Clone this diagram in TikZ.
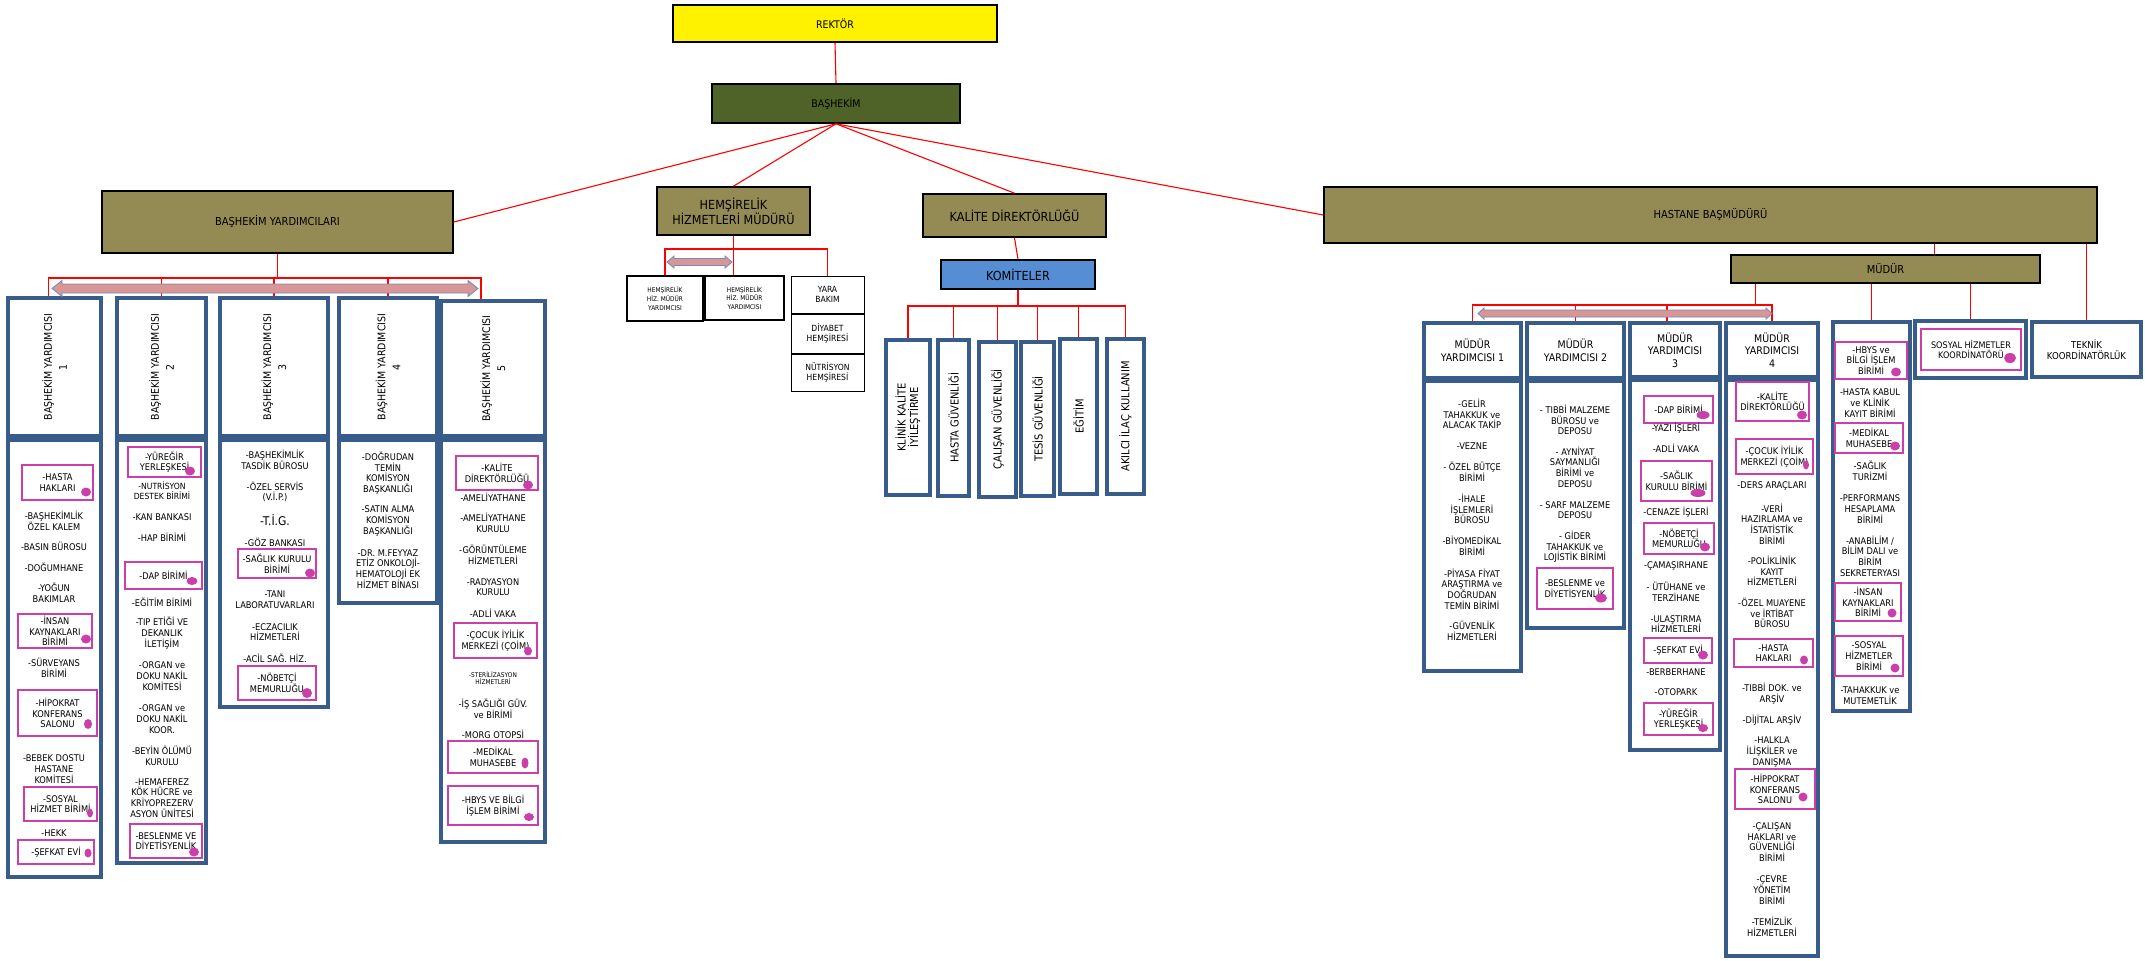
\documentclass[tikz,border=0pt]{standalone}
\usepackage{fontspec}
\setmainfont{DejaVu Sans Condensed}

\definecolor{olivec}{HTML}{948A54}
\definecolor{greenc}{HTML}{4F6228}
\definecolor{framec}{HTML}{385D8A}
\definecolor{pinkc}{HTML}{CC3FA8}
\definecolor{dotc}{HTML}{CC3FAA}
\definecolor{komc}{HTML}{558ED5}
\definecolor{arrfill}{HTML}{DA9694}
\definecolor{arrline}{HTML}{6C8EBF}

\newcommand{\itmfont}{\fontsize{9.2}{10.7}\selectfont}
% box from its two corners (pixel coordinates)
\newcommand{\orgcell}[7]{\node[#2, minimum width={#5-#3}, minimum height={#6-#4}] (#1) at ({(#3+#5)/2},{(#4+#6)/2}) {#7};}
% magenta dot of a box
\newcommand{\pdot}[4]{\fill[dotc] (#1,#2) ellipse ({#3} and {#4});}
% double arrow: x1, x2, y, head length, half head, half shaft
\newcommand{\dblarrow}[6]{\draw[arrline, fill=arrfill, line width=0.8pt] (#1,#3) -- ({#1+#4},{#3-#5}) -- ({#1+#4},{#3-#6}) -- ({#2-#4},{#3-#6}) -- ({#2-#4},{#3-#5}) -- (#2,#3) -- ({#2-#4},{#3+#5}) -- ({#2-#4},{#3+#6}) -- ({#1+#4},{#3+#6}) -- ({#1+#4},{#3+#5}) -- cycle;}

\tikzset{
  redline/.style={draw=red, line width=1.1pt},
  olivebox/.style={draw=black, line width=1.6pt, fill=olivec, align=center, inner sep=0pt, font=\fontsize{11}{13}\selectfont},
  colframe/.style={draw=framec, line width=3.5pt, fill=white, inner sep=0pt, align=center},
  pinkbox/.style={draw=pinkc, line width=1.3pt, fill=white, align=center, inner sep=0pt, font=\itmfont},
  itm/.style={align=center, inner sep=0pt, font=\itmfont},
  hdtxt/.style={align=center, inner sep=0pt, font=\fontsize{10.5}{15}\selectfont},
  myhd/.style={colframe, font=\fontsize{10.5}{13}\selectfont},
  blackbox/.style={draw=black, line width=1.8pt, fill=white, align=center, inner sep=0pt, font=\fontsize{6.5}{8.6}\selectfont},
  thinbox/.style={draw=black, line width=0.8pt, fill=white, align=center, inner sep=0pt, font=\fontsize{8.5}{10}\selectfont},
  komtxt/.style={rotate=90, align=center, inner sep=0pt, font=\fontsize{11}{12.5}\selectfont}
}

\begin{document}
\begin{tikzpicture}[x=1pt, y=-1pt]
\useasboundingbox (0,0) rectangle (2145,961);

% top
\orgcell{rektor}{olivebox, fill=yellow, font=\fontsize{10.5}{12}\selectfont}{673}{5}{997}{42}{REKTÖR}
\orgcell{bas}{olivebox, fill=greenc, font=\fontsize{10.5}{12}\selectfont}{712}{84}{960}{123}{BAŞHEKİM}
\orgcell{bhy}{olivebox}{102}{191}{453}{253}{BAŞHEKİM YARDIMCILARI}
\orgcell{hhm}{olivebox, font=\fontsize{12.5}{15}\selectfont}{657}{187}{810}{235}{HEMŞİRELİK\\HİZMETLERİ MÜDÜRÜ}
\orgcell{kalite}{olivebox, font=\fontsize{12.5}{15}\selectfont}{923}{194}{1106}{237}{KALİTE DİREKTÖRLÜĞÜ}
\orgcell{hb}{olivebox}{1324}{187}{2097}{243}{HASTANE BAŞMÜDÜRÜ}
\orgcell{mudur}{olivebox}{1731}{255}{2040}{283}{MÜDÜR}

% basekim yardimcilari
\orgcell{by1hd}{colframe}{8}{298}{101}{436}{}
\orgcell{by2hd}{colframe}{117}{298}{206}{436}{}
\orgcell{by3hd}{colframe}{220}{298}{328}{436}{}
\orgcell{by4hd}{colframe}{339}{298}{437}{436}{}
\orgcell{by5hd}{colframe}{441}{301}{545}{436}{}
\foreach \n in {1,...,5}
  \node[hdtxt, rotate=90] (by\n t) at (by\n hd) {BAŞHEKİM YARDIMCISI\\\n};
\orgcell{by1ls}{colframe}{8}{440}{101}{877}{}
\orgcell{by2ls}{colframe}{117}{440}{206}{863}{}
\orgcell{by3ls}{colframe}{220}{440}{328}{707}{}
\orgcell{by4ls}{colframe}{339}{440}{437}{603}{}
\orgcell{by5ls}{colframe}{441}{440}{545}{842}{}

% column 1
\orgcell{by1p1}{pinkbox}{22}{465}{93}{500}{-HASTA\\HAKLARI}
\pdot{86}{492}{5}{4.5}
\node[itm] (by1a) at (54,521) {-BAŞHEKİMLİK\\ÖZEL KALEM};
\node[itm] (by1b) at (54,546) {-BASIN BÜROSU};
\node[itm] (by1c) at (54,567) {-DOĞUMHANE};
\node[itm] (by1d) at (54,593) {-YOĞUN\\BAKIMLAR};
\orgcell{by1p2}{pinkbox}{18}{614}{92}{648}{-İNSAN\\KAYNAKLARI\\BİRİMİ}
\pdot{86}{639}{5}{4.5}
\node[itm] (by1e) at (54,668) {-SÜRVEYANS\\BİRİMİ};
\orgcell{by1p3}{pinkbox}{18}{690}{97}{736}{-HİPOKRAT\\KONFERANS\\SALONU}
\pdot{88}{724}{4}{5}
\node[itm] (by1f) at (54,769) {-BEBEK DOSTU\\HASTANE\\KOMİTESİ};
\orgcell{by1p4}{pinkbox}{24}{787}{97}{821}{-SOSYAL\\HİZMET BİRİMİ}
\pdot{90}{813}{3}{4.5}
\node[itm] (by1g) at (54,833) {-HEKK};
\orgcell{by1p5}{pinkbox}{18}{840}{94}{864}{-ŞEFKAT EVİ}
\pdot{88}{853}{3.5}{4.5}

% column 2
\orgcell{by2p1}{pinkbox}{128}{447}{201}{477}{-YÜREĞİR\\YERLEŞKESİ}
\pdot{190}{471}{5}{4.5}
\node[itm, font=\fontsize{8.5}{10}\selectfont] (by2a) at (162,491) {-NUTRİSYON\\DESTEK BİRİMİ};
\node[itm] (by2b) at (162,517) {-KAN BANKASI};
\node[itm] (by2c) at (162,537) {-HAP BİRİMİ};
\orgcell{by2p2}{pinkbox}{125}{562}{202}{589}{-DAP BİRİMİ}
\pdot{192}{581}{5.5}{4}
\node[itm] (by2d) at (162,602) {-EĞİTİM BİRİMİ};
\node[itm] (by2e) at (162,633) {-TIP ETİĞİ VE\\DEKANLIK\\İLETİŞİM};
\node[itm] (by2f) at (162,676) {-ORGAN ve\\DOKU NAKİL\\KOMİTESİ};
\node[itm] (by2g) at (162,719) {-ORGAN ve\\DOKU NAKİL\\KOOR.};
\node[itm] (by2h) at (162,756) {-BEYİN ÖLÜMÜ\\KURULU};
\node[itm] (by2i) at (162,798) {-HEMAFEREZ\\KÖK HÜCRE ve\\KRİYOPREZERV\\ASYON ÜNİTESİ};
\orgcell{by2p3}{pinkbox}{130}{824}{202}{858}{-BESLENME VE\\DİYETİSYENLİK}
\pdot{194}{852}{5}{4.5}

% column 3
\node[itm] (by3a) at (275,460) {-BAŞHEKİMLİK\\TASDİK BÜROSU};
\node[itm] (by3b) at (275,492) {-ÖZEL SERVİS\\(V.İ.P.)};
\node[itm, font=\fontsize{12}{14}\selectfont] (by3c) at (275,520) {-T.İ.G.};
\node[itm] (by3d) at (275,542) {-GÖZ BANKASI};
\orgcell{by3p1}{pinkbox}{238}{549}{316}{578}{-SAĞLIK KURULU\\BİRİMİ}
\pdot{310}{573}{5}{4.5}
\node[itm] (by3e) at (275,600) {-TANI\\LABORATUVARLARI};
\node[itm] (by3f) at (275,632) {-ECZACILIK\\HİZMETLERİ};
\node[itm] (by3g) at (275,658) {-ACİL SAĞ. HİZ.};
\orgcell{by3p2}{pinkbox}{238}{666}{316}{700}{-NÖBETÇİ\\MEMURLUĞU}
\pdot{307}{693}{5}{5}

% column 4
\node[itm] (by4a) at (388,473) {-DOĞRUDAN\\TEMİN\\KOMİSYON\\BAŞKANLIĞI};
\node[itm] (by4b) at (388,521) {-SATIN ALMA\\KOMİSYON\\BAŞKANLIĞI};
\node[itm] (by4c) at (388,569) {-DR. M.FEYYAZ\\ETİZ ONKOLOJİ-\\HEMATOLOJİ EK\\HİZMET BİNASI};

% column 5
\orgcell{by5p1}{pinkbox}{456}{456}{538}{490}{-KALİTE\\DİREKTÖRLÜĞÜ}
\pdot{528}{485}{5}{4.5}
\node[itm] (by5a) at (493,497) {-AMELİYATHANE};
\node[itm] (by5b) at (493,523) {-AMELİYATHANE\\KURULU};
\node[itm] (by5c) at (493,555) {-GÖRÜNTÜLEME\\HİZMETLERİ};
\node[itm] (by5d) at (493,587) {-RADYASYON\\KURULU};
\node[itm] (by5e) at (493,613) {-ADLİ VAKA};
\orgcell{by5p2}{pinkbox}{454}{623}{537}{658}{-ÇOCUK İYİLİK\\MERKEZİ (ÇOİM)}
\pdot{528}{651}{4}{4.5}
\node[itm, font=\fontsize{6.5}{7.5}\selectfont] (by5f) at (493,678) {-STERİLİZASYON\\HİZMETLERİ};
\node[itm] (by5g) at (493,709) {-İŞ SAĞLIĞI GÜV.\\ve BİRİMİ};
\node[itm] (by5h) at (493,734) {-MORG OTOPSİ};
\orgcell{by5p3}{pinkbox}{448}{741}{538}{773}{-MEDİKAL\\MUHASEBE}
\pdot{525}{763}{3.5}{5.5}
\orgcell{by5p4}{pinkbox}{448}{786}{538}{825}{-HBYS VE BİLGİ\\İŞLEM BİRİMİ}
\pdot{529}{817}{5}{4}

% hemsirelik
\orgcell{hmy1}{blackbox}{627}{276}{703}{321}{HEMŞİRELİK\\HİZ. MÜDÜR\\YARDIMCISI}
\orgcell{hmy2}{blackbox}{705}{276}{784}{320}{HEMŞİRELİK\\HİZ. MÜDÜR\\YARDIMCISI}
\orgcell{yara}{thinbox}{791}{276}{864}{313}{YARA\\BAKIM}
\orgcell{diyabet}{thinbox}{791}{314}{864}{353}{DİYABET\\HEMŞİRESİ}
\orgcell{nutr}{thinbox}{791}{354}{864}{391}{NÜTRİSYON\\HEMŞİRESİ}

% kalite
\orgcell{komite}{olivebox, fill=komc, font=\fontsize{12.5}{15}\selectfont}{941}{260}{1095}{289}{KOMİTELER}
\orgcell{k1}{colframe}{886}{340}{930}{495}{}
\orgcell{k2}{colframe}{938}{340}{969}{496}{}
\orgcell{k3}{colframe}{979}{342}{1016}{497}{}
\orgcell{k4}{colframe}{1021}{342}{1054}{496}{}
\orgcell{k5}{colframe}{1060}{339}{1097}{494}{}
\orgcell{k6}{colframe}{1107}{339}{1144}{494}{}
\node[komtxt] (k1t) at (k1) {KLİNİK KALİTE\\İYİLEŞTİRME};
\node[komtxt] (k2t) at (k2) {HASTA GÜVENLİĞİ};
\node[komtxt] (k3t) at (k3) {ÇALIŞAN GÜVENLİĞİ};
\node[komtxt] (k4t) at (k4) {TESİS GÜVENLİĞİ};
\node[komtxt] (k5t) at (k5) {EĞİTİM};
\node[komtxt] (k6t) at (k6) {AKILCI İLAÇ KULLANIM};

% mudur yardimcilari
\orgcell{my1hd}{myhd}{1424}{323}{1521}{378}{MÜDÜR\\YARDIMCISI 1}
\orgcell{my2hd}{myhd}{1527}{323}{1624}{378}{MÜDÜR\\YARDIMCISI 2}
\orgcell{my3hd}{myhd, font=\fontsize{10.5}{12.5}\selectfont}{1630}{323}{1720}{377}{MÜDÜR\\YARDIMCISI\\3}
\orgcell{my4hd}{myhd, font=\fontsize{10.5}{12.5}\selectfont}{1726}{323}{1818}{377}{MÜDÜR\\YARDIMCISI\\4}
\orgcell{my1ls}{colframe}{1424}{381}{1521}{671}{}
\orgcell{my2ls}{colframe}{1527}{381}{1624}{628}{}
\orgcell{my3ls}{colframe}{1630}{380}{1720}{750}{}
\orgcell{my4ls}{colframe}{1726}{380}{1818}{956}{}
\orgcell{hbcol}{colframe}{1833}{322}{1910}{711}{}
\orgcell{sosyal}{colframe}{1915}{321}{2026}{378}{}
\orgcell{sosyalp}{pinkbox, font=\fontsize{9}{10.5}\selectfont}{1921}{329}{2021}{370}{SOSYAL HİZMETLER\\KOORDİNATÖRÜ}
\pdot{2010}{358}{6}{5}
\orgcell{teknik}{colframe, font=\fontsize{9.5}{11}\selectfont}{2032}{322}{2141}{377}{TEKNİK\\KOORDİNATÖRLÜK}

% MY1
\node[itm] (my1a) at (1472,414) {-GELİR\\TAHAKKUK ve\\ALACAK TAKİP};
\node[itm] (my1b) at (1472,446) {-VEZNE};
\node[itm] (my1c) at (1472,472) {- ÖZEL BÜTÇE\\BİRİMİ};
\node[itm] (my1d) at (1472,509) {-İHALE\\İŞLEMLERİ\\BÜROSU};
\node[itm] (my1e) at (1472,546) {-BİYOMEDİKAL\\BİRİMİ};
\node[itm] (my1f) at (1472,589) {-PİYASA FİYAT\\ARAŞTIRMA ve\\DOĞRUDAN\\TEMİN BİRİMİ};
\node[itm] (my1g) at (1472,631) {-GÜVENLİK\\HİZMETLERİ};

% MY2
\node[itm] (my2a) at (1575,420) {- TIBBİ MALZEME\\BÜROSU ve\\DEPOSU};
\node[itm] (my2b) at (1575,467) {- AYNİYAT\\SAYMANLIĞI\\BİRİMİ ve\\DEPOSU};
\node[itm] (my2c) at (1575,510) {- SARF MALZEME\\DEPOSU};
\node[itm] (my2d) at (1575,547) {- GİDER\\TAHAKKUK ve\\LOJİSTİK BİRİMİ};
\orgcell{my2p1}{pinkbox}{1537}{568}{1613}{609}{-BESLENME ve\\DİYETİSYENLİK}
\pdot{1601}{598}{6}{4.5}

% MY3
\orgcell{my3p1}{pinkbox}{1644}{396}{1713}{423}{-DAP BİRİMİ}
\pdot{1703}{415}{6.5}{4}
\node[itm] (my3a) at (1676,428) {-YAZI İŞLERİ};
\node[itm] (my3b) at (1676,448) {-ADLİ VAKA};
\orgcell{my3p2}{pinkbox}{1641}{461}{1712}{501}{-SAĞLIK\\KURULU BİRİMİ}
\pdot{1698}{493}{7.5}{4}
\node[itm] (my3c) at (1676,512) {-CENAZE İŞLERİ};
\orgcell{my3p3}{pinkbox}{1644}{523}{1714}{554}{-NÖBETÇİ\\MEMURLUĞU}
\pdot{1705}{547}{5}{4.5}
\node[itm] (my3d) at (1676,566) {-ÇAMAŞIRHANE};
\node[itm] (my3e) at (1676,592) {- ÜTÜHANE ve\\TERZİHANE};
\node[itm] (my3f) at (1676,624) {-ULAŞTIRMA\\HİZMETLERİ};
\orgcell{my3p4}{pinkbox}{1644}{638}{1712}{663}{-ŞEFKAT EVİ}
\pdot{1703}{655}{5}{4.5}
\node[itm] (my3g) at (1676,672) {-BERBERHANE};
\node[itm] (my3h) at (1676,692) {-OTOPARK};
\orgcell{my3p5}{pinkbox}{1644}{703}{1713}{735}{-YÜREĞİR\\YERLEŞKESİ}
\pdot{1703}{728}{5}{4}

% MY4
\orgcell{my4p1}{pinkbox}{1736}{382}{1809}{421}{-KALİTE\\DİREKTÖRLÜĞÜ}
\pdot{1802}{415}{5}{4.5}
\orgcell{my4p2}{pinkbox}{1736}{439}{1813}{474}{-ÇOCUK İYİLİK\\MERKEZİ (ÇOİM)}
\pdot{1806}{465}{3}{4.5}
\node[itm] (my4a) at (1772,486) {-DERS ARAÇLARI};
\node[itm] (my4b) at (1772,524) {-VERİ\\HAZIRLAMA ve\\İSTATİSTİK\\BİRİMİ};
\node[itm] (my4c) at (1772,571) {-POLİKLİNİK\\KAYIT\\HİZMETLERİ};
\node[itm] (my4d) at (1772,613) {-ÖZEL MUAYENE\\ve İRTİBAT\\BÜROSU};
\orgcell{my4p3}{pinkbox}{1734}{639}{1813}{667}{-HASTA\\HAKLARI}
\pdot{1804}{660}{4}{4.5}
\node[itm] (my4e) at (1772,694) {-TIBBİ DOK. ve\\ARŞİV};
\node[itm] (my4f) at (1772,720) {-DİJİTAL ARŞİV};
\node[itm] (my4g) at (1772,752) {-HALKLA\\İLİŞKİLER ve\\DANIŞMA};
\orgcell{my4p4}{pinkbox}{1735}{769}{1815}{809}{-HİPPOKRAT\\KONFERANS\\SALONU}
\pdot{1803}{797}{4.5}{4.5}
\node[itm] (my4h) at (1772,842) {-ÇALIŞAN\\HAKLARI ve\\GÜVENLİĞİ\\BİRİMİ};
\node[itm] (my4i) at (1772,890) {-ÇEVRE\\YÖNETİM\\BİRİMİ};
\node[itm] (my4j) at (1772,927) {-TEMİZLİK\\HİZMETLERİ};

% HBYS column
\orgcell{hbp1}{pinkbox}{1835}{342}{1907}{379}{-HBYS ve\\BİLGİ İŞLEM\\BİRİMİ}
\pdot{1896}{372}{5}{4.5}
\node[itm] (hba) at (1870,403) {-HASTA KABUL\\ve KLİNİK\\KAYIT BİRİMİ};
\orgcell{hbp2}{pinkbox}{1835}{423}{1903}{453}{-MEDİKAL\\MUHASEBE}
\pdot{1895}{446}{5}{4.5}
\node[itm] (hbb) at (1870,471) {-SAĞLIK\\TURİZMİ};
\node[itm] (hbc) at (1870,509) {-PERFORMANS\\HESAPLAMA\\BİRİMİ};
\node[itm] (hbd) at (1870,556) {-ANABİLİM /\\BİLİM DALI ve\\BİRİM\\SEKRETERYASI};
\orgcell{hbp3}{pinkbox}{1835}{583}{1901}{621}{-İNSAN\\KAYNAKLARI\\BİRİMİ}
\pdot{1892}{613}{4.5}{4.5}
\orgcell{hbp4}{pinkbox}{1835}{636}{1903}{676}{-SOSYAL\\HİZMETLER\\BİRİMİ}
\pdot{1895}{668}{4.5}{4.5}
\node[itm] (hbe) at (1870,696) {-TAHAKKUK ve\\MUTEMETLİK};

% connectors
\draw[redline] (rektor.south) -- (bas.north);
\draw[redline] (bas.south) -- (bhy.east);
\draw[redline] (bas.south) -- (hhm.north);
\draw[redline] (bas.south) -- (kalite.north);
\draw[redline] (bas.south) -- (hb.west);

\coordinate (bybar) at (0,278);
\draw[redline] (bhy.south) -- (bhy.south |- bybar);
\draw[redline] ([xshift=-6pt]by1hd.north) -- ([xshift=-6pt]by1hd.north |- bybar) -- ([xshift=-12pt]by5hd.north |- bybar) -- ([xshift=-12pt]by5hd.north);
\foreach \n in {2,3,4}
  \draw[redline] (by\n hd.north) -- (by\n hd.north |- bybar);

\coordinate (hmbar) at (0,249);
\draw[redline] (hhm.south) -- (hhm.south |- hmy2.north);
\draw[redline] (hmy1.north) -- (hmy1.north |- hmbar) -- (yara.north |- hmbar) -- (yara.north);

\coordinate (kbar) at (0,306);
\draw[redline] (kalite.south) -- (komite.north);
\draw[redline] (komite.south) -- (komite.south |- kbar);
\draw[redline] (k1.north) -- (k1.north |- kbar) -- (k6.north |- kbar) -- (k6.north);
\foreach \n in {2,...,5}
  \draw[redline] (k\n.north) -- (k\n.north |- kbar);

\draw[redline] ([xshift=49pt]mudur.north) -- ([xshift=49pt]mudur.north |- hb.south);
\draw[redline] (teknik.north) -- (teknik.north |- hb.south);
\draw[redline] (hbcol.north) -- (hbcol.north |- mudur.south);
\draw[redline] (sosyal.north) -- (sosyal.north |- mudur.south);
\coordinate (mybar) at (0,305);
\draw[redline] ([xshift=-130pt]mudur.south) -- ([xshift=-130pt]mudur.south |- mybar);
\draw[redline] (my1hd.north) -- (my1hd.north |- mybar) -- (my4hd.north |- mybar) -- (my4hd.north);
\draw[redline] (my2hd.north) -- (my2hd.north |- mybar);
\draw[redline] ([xshift=-8pt]my3hd.north) -- ([xshift=-8pt]my3hd.north |- mybar);

% double arrows
\dblarrow{52}{478}{288.5}{10}{8}{4.5}
\dblarrow{667}{732}{262}{7}{6}{3.5}
\dblarrow{1478}{1772}{313.5}{6}{5.5}{3.5}
\end{tikzpicture}
\end{document}
